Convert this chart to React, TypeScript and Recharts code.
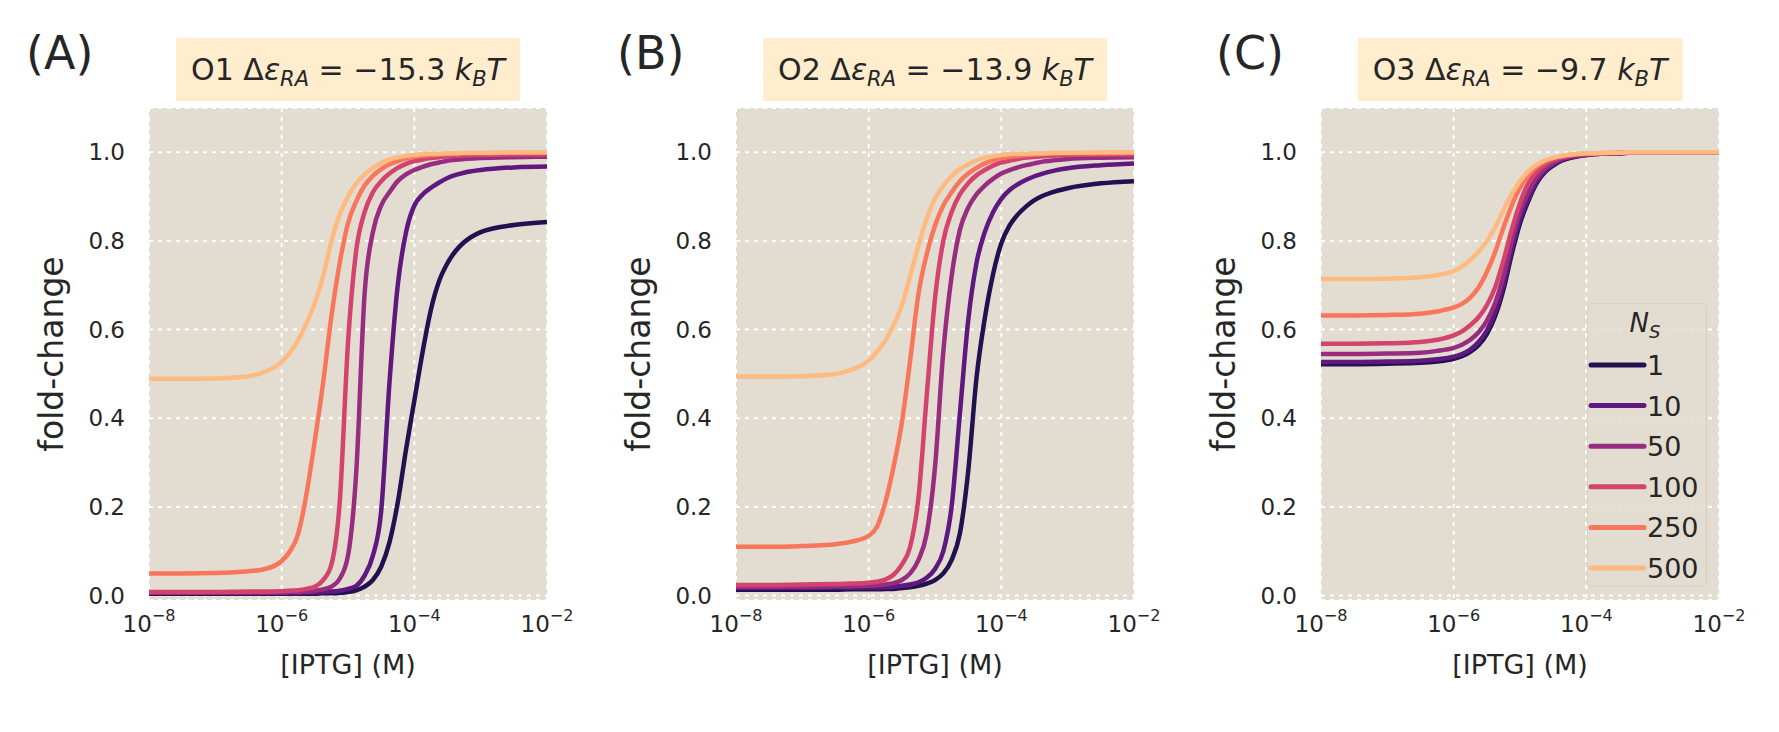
import React from 'react';
import { LineChart, Line, XAxis, YAxis, CartesianGrid, Label } from 'recharts';

const FONT = '"DejaVu Sans", "Open Sans", sans-serif';
const INK = '#262626';

// log10 [IPTG] (M) sample points
const logIptg = [
  -8, -7.5, -7, -6.5, -6.25, -6, -5.875, -5.75, -5.625, -5.5, -5.375, -5.25, -5.125, -5,
  -4.875, -4.75, -4.625, -4.5, -4.375, -4.25, -4.125, -4, -3.875, -3.75, -3.625, -3.5,
  -3.375, -3.25, -3, -2.5, -2,
];

const repressorCopies = ['1', '10', '50', '100', '250', '500'];
const seriesColors = ['#221150', '#5f187f', '#982d80', '#d3436e', '#f8765c', '#febb81'];
const panelLetters = ['(A)', '(B)', '(C)'];
const operatorNames = ['O1', 'O2', 'O3'];
const bindingEnergies = ['−15.3', '−13.9', '−9.7'];
const xTicks = [-8, -6, -4, -2];
const yTicks = [0, 0.2, 0.4, 0.6, 0.8, 1.0];

// O1, fold-change for each N_s
const o1Ns1 = [0.004, 0.004, 0.004, 0.004, 0.004, 0.004, 0.004, 0.004, 0.004, 0.004, 0.005, 0.005, 0.006, 0.008, 0.012, 0.02, 0.035, 0.065, 0.12, 0.21, 0.33, 0.44, 0.55, 0.645, 0.71, 0.75, 0.778, 0.797, 0.82, 0.836, 0.843];
const o1Ns10 = [0.006, 0.006, 0.006, 0.006, 0.006, 0.006, 0.006, 0.006, 0.007, 0.007, 0.008, 0.009, 0.011, 0.015, 0.022, 0.045, 0.09, 0.19, 0.48, 0.7, 0.82, 0.88, 0.905, 0.92, 0.932, 0.942, 0.949, 0.954, 0.96, 0.966, 0.968];
const o1Ns50 = [0.007, 0.007, 0.007, 0.007, 0.007, 0.007, 0.008, 0.008, 0.009, 0.011, 0.014, 0.02, 0.038, 0.09, 0.28, 0.68, 0.82, 0.88, 0.91, 0.935, 0.95, 0.96, 0.967, 0.973, 0.977, 0.981, 0.983, 0.985, 0.987, 0.989, 0.99];
const o1Ns100 = [0.008, 0.008, 0.008, 0.009, 0.009, 0.01, 0.011, 0.012, 0.015, 0.02, 0.035, 0.07, 0.21, 0.57, 0.78, 0.865, 0.91, 0.935, 0.952, 0.965, 0.974, 0.98, 0.984, 0.987, 0.989, 0.991, 0.992, 0.993, 0.994, 0.995, 0.995];
const o1Ns250 = [0.05, 0.05, 0.051, 0.055, 0.06, 0.078, 0.1, 0.14, 0.23, 0.35, 0.48, 0.63, 0.75, 0.84, 0.89, 0.925, 0.947, 0.962, 0.973, 0.98, 0.986, 0.99, 0.992, 0.994, 0.995, 0.996, 0.997, 0.998, 0.998, 0.999, 0.999];
const o1Ns500 = [0.489, 0.489, 0.49, 0.495, 0.505, 0.527, 0.548, 0.577, 0.615, 0.66, 0.72, 0.8, 0.86, 0.9, 0.93, 0.95, 0.965, 0.976, 0.984, 0.989, 0.992, 0.994, 0.996, 0.997, 0.997, 0.998, 0.998, 0.999, 0.999, 1.0, 1.0];

// O2
const o2Ns1 = [0.013, 0.013, 0.013, 0.013, 0.014, 0.014, 0.014, 0.015, 0.015, 0.017, 0.019, 0.022, 0.027, 0.035, 0.05, 0.08, 0.14, 0.28, 0.49, 0.625, 0.725, 0.795, 0.835, 0.86, 0.878, 0.892, 0.902, 0.909, 0.919, 0.93, 0.935];
const o2Ns10 = [0.017, 0.017, 0.017, 0.018, 0.018, 0.018, 0.018, 0.019, 0.02, 0.022, 0.025, 0.03, 0.04, 0.06, 0.1, 0.2, 0.41, 0.62, 0.75, 0.82, 0.865, 0.895, 0.915, 0.928, 0.938, 0.946, 0.952, 0.957, 0.964, 0.971, 0.975];
const o2Ns50 = [0.02, 0.02, 0.02, 0.021, 0.021, 0.022, 0.023, 0.025, 0.028, 0.035, 0.05, 0.08, 0.14, 0.29, 0.55, 0.72, 0.825, 0.875, 0.905, 0.925, 0.94, 0.952, 0.96, 0.966, 0.971, 0.975, 0.979, 0.981, 0.985, 0.988, 0.989];
const o2Ns100 = [0.024, 0.024, 0.025, 0.026, 0.027, 0.029, 0.031, 0.036, 0.047, 0.07, 0.11, 0.22, 0.45, 0.67, 0.8, 0.865, 0.905, 0.93, 0.948, 0.96, 0.97, 0.977, 0.981, 0.985, 0.988, 0.99, 0.991, 0.992, 0.994, 0.995, 0.995];
const o2Ns250 = [0.11, 0.11, 0.112, 0.116, 0.122, 0.135, 0.155, 0.21, 0.29, 0.39, 0.53, 0.68, 0.77, 0.835, 0.88, 0.91, 0.935, 0.952, 0.965, 0.975, 0.982, 0.987, 0.99, 0.992, 0.994, 0.995, 0.996, 0.997, 0.998, 0.998, 0.999];
const o2Ns500 = [0.494, 0.494, 0.495, 0.5, 0.51, 0.53, 0.55, 0.575, 0.61, 0.655, 0.72, 0.79, 0.85, 0.895, 0.925, 0.946, 0.962, 0.973, 0.982, 0.988, 0.991, 0.994, 0.996, 0.997, 0.997, 0.998, 0.998, 0.999, 0.999, 1.0, 1.0];

// O3
const o3Ns1 = [0.522, 0.522, 0.523, 0.525, 0.528, 0.534, 0.54, 0.55, 0.565, 0.59, 0.63, 0.69, 0.77, 0.84, 0.89, 0.93, 0.955, 0.97, 0.981, 0.987, 0.991, 0.994, 0.996, 0.997, 0.998, 0.998, 0.999, 0.999, 0.999, 1.0, 1.0];
const o3Ns10 = [0.527, 0.527, 0.528, 0.53, 0.533, 0.539, 0.545, 0.555, 0.572, 0.598, 0.64, 0.7, 0.78, 0.848, 0.895, 0.933, 0.957, 0.972, 0.982, 0.988, 0.992, 0.994, 0.996, 0.997, 0.998, 0.998, 0.999, 0.999, 0.999, 1.0, 1.0];
const o3Ns50 = [0.545, 0.545, 0.546, 0.548, 0.552, 0.559, 0.566, 0.577, 0.594, 0.62, 0.66, 0.72, 0.8, 0.865, 0.91, 0.942, 0.963, 0.976, 0.985, 0.99, 0.993, 0.995, 0.996, 0.997, 0.998, 0.998, 0.999, 0.999, 0.999, 1.0, 1.0];
const o3Ns100 = [0.568, 0.568, 0.569, 0.572, 0.577, 0.587, 0.596, 0.61, 0.628, 0.655, 0.695, 0.755, 0.825, 0.885, 0.93, 0.955, 0.972, 0.982, 0.988, 0.992, 0.995, 0.996, 0.997, 0.998, 0.998, 0.999, 0.999, 1.0, 1.0, 1.0, 1.0];
const o3Ns250 = [0.632, 0.632, 0.633, 0.636, 0.641, 0.65, 0.658, 0.672, 0.695, 0.73, 0.775, 0.83, 0.88, 0.92, 0.948, 0.967, 0.979, 0.987, 0.991, 0.994, 0.996, 0.997, 0.998, 0.998, 0.999, 0.999, 1.0, 1.0, 1.0, 1.0, 1.0];
const o3Ns500 = [0.714, 0.714, 0.715, 0.718, 0.723, 0.732, 0.742, 0.757, 0.776, 0.8, 0.83, 0.87, 0.905, 0.935, 0.957, 0.972, 0.982, 0.988, 0.992, 0.995, 0.997, 0.998, 0.998, 0.999, 0.999, 0.999, 1.0, 1.0, 1.0, 1.0, 1.0];

const panelSeries = [
  [o1Ns1, o1Ns10, o1Ns50, o1Ns100, o1Ns250, o1Ns500],
  [o2Ns1, o2Ns10, o2Ns50, o2Ns100, o2Ns250, o2Ns500],
  [o3Ns1, o3Ns10, o3Ns50, o3Ns100, o3Ns250, o3Ns500],
];

// layout (page pixels)
const PLOT_LEFTS = [149, 736, 1321];
const LETTER_LEFTS = [26, 617, 1216];
const PLOT_W = 398;
const PLOT_TOP = 108;
const PLOT_BOTTOM = 600;
const CHART_H = 732;
const Y_AXIS_W = 100;
const X_AXIS_H = 80;
const MARGIN_LEFT = 49;
const CHART_W = MARGIN_LEFT + Y_AXIS_W + PLOT_W + 33;

function PowerTick(props: any) {
  const { x, y, payload } = props;
  return (
    <text x={x} y={y + 32} textAnchor="middle" fontFamily={FONT} fontSize={23} fill={INK}>
      10
      <tspan dy={-11} fontSize={16}>
        −{Math.abs(payload.value)}
      </tspan>
    </text>
  );
}

const subStyle = { fontSize: '0.7em', verticalAlign: '-0.3em' };

function Panel({ idx }: { idx: number }) {
  const series = panelSeries[idx];
  const rows = logIptg.map((x, i) => {
    const row: Record<string, number> = { x };
    series.forEach((s, j) => {
      row['n' + repressorCopies[j]] = s[i];
    });
    return row;
  });
  const plotLeft = PLOT_LEFTS[idx];
  const chartLeft = plotLeft - MARGIN_LEFT - Y_AXIS_W;
  const midY = (PLOT_TOP + PLOT_BOTTOM) / 2;
  const labelX = MARGIN_LEFT + Y_AXIS_W - 98;

  return (
    <>
      <div style={{ position: 'absolute', left: chartLeft, top: 0 }}>
        <LineChart
          width={CHART_W}
          height={CHART_H}
          data={rows}
          margin={{ top: PLOT_TOP, right: 33, bottom: CHART_H - PLOT_BOTTOM - X_AXIS_H, left: MARGIN_LEFT }}
        >
          <CartesianGrid fill="#E3DCD0" fillOpacity={1} stroke="#ffffff" strokeWidth={2} strokeDasharray="4 5" />
          <XAxis
            type="number"
            dataKey="x"
            domain={[-8, -2]}
            ticks={xTicks}
            interval={0}
            height={X_AXIS_H}
            axisLine={false}
            tickLine={false}
            tickSize={0}
            tickMargin={0}
            tick={<PowerTick />}
            allowDataOverflow
          >
            <Label
              value="[IPTG] (M)"
              content={() => (
                <text
                  x={MARGIN_LEFT + Y_AXIS_W + PLOT_W / 2}
                  y={674}
                  textAnchor="middle"
                  fontFamily={FONT}
                  fontSize={27}
                  fill={INK}
                >
                  [IPTG] (M)
                </text>
              )}
            />
          </XAxis>
          <YAxis
            type="number"
            domain={[-0.01, 1.1]}
            ticks={yTicks}
            interval={0}
            width={Y_AXIS_W}
            axisLine={false}
            tickLine={false}
            tickSize={0}
            tickMargin={24}
            tick={{ fontFamily: FONT, fontSize: 23, fill: INK }}
            tickFormatter={(v: number) => v.toFixed(1)}
            allowDataOverflow
          >
            <Label
              value="fold-change"
              content={() => (
                <text
                  x={labelX}
                  y={midY}
                  transform={`rotate(-90 ${labelX} ${midY})`}
                  textAnchor="middle"
                  dominantBaseline="central"
                  fontFamily={FONT}
                  fontSize={33}
                  fill={INK}
                >
                  fold-change
                </text>
              )}
            />
          </YAxis>
          {repressorCopies.map((n, j) => (
            <Line
              key={n}
              type="monotone"
              dataKey={'n' + n}
              stroke={seriesColors[j]}
              strokeWidth={4.5}
              dot={false}
              activeDot={false}
              isAnimationActive={false}
            />
          ))}
        </LineChart>
      </div>
      <div
        style={{
          position: 'absolute',
          left: LETTER_LEFTS[idx],
          top: 30,
          fontFamily: FONT,
          fontSize: 46,
          lineHeight: '46px',
          color: INK,
        }}
      >
        {panelLetters[idx]}
      </div>
      <div
        style={{
          position: 'absolute',
          left: plotLeft + PLOT_W / 2,
          top: 38,
          height: 63,
          transform: 'translateX(-50%)',
          background: '#FFEDCE',
          padding: '0 15px',
          fontFamily: FONT,
          fontSize: 30,
          lineHeight: '63px',
          whiteSpace: 'nowrap',
          color: INK,
        }}
      >
        {operatorNames[idx]} Δ<i>ε</i>
        <i style={subStyle}>RA</i>
        {' = '}
        {bindingEnergies[idx]} <i>k</i>
        <i style={subStyle}>B</i>
        <i>T</i>
      </div>
    </>
  );
}

function NsLegend() {
  const rowY = (i: number) => 62 + i * 40.6;
  return (
    <div
      style={{
        position: 'absolute',
        left: 1587,
        top: 303,
        width: 120,
        height: 284,
        boxSizing: 'border-box',
        border: '1.5px solid #d6d0c5',
        borderRadius: 5,
        background: 'rgba(227,220,208,0.85)',
      }}
    >
      <svg width={120} height={284} style={{ position: 'absolute', left: -1.5, top: -1.5 }}>
        <text x={58} y={29} textAnchor="middle" fontFamily={FONT} fontSize={26} fontStyle="italic" fill={INK}>
          N
          <tspan dy={6} fontSize={18}>
            S
          </tspan>
        </text>
        {repressorCopies.map((n, i) => (
          <g key={n}>
            <line
              x1={4}
              x2={57}
              y1={rowY(i)}
              y2={rowY(i)}
              stroke={seriesColors[i]}
              strokeWidth={5}
              strokeLinecap="round"
            />
            <text x={60} y={rowY(i) + 10} fontFamily={FONT} fontSize={27} fill={INK}>
              {n}
            </text>
          </g>
        ))}
      </svg>
    </div>
  );
}

export default function App() {
  return (
    <div style={{ position: 'absolute', left: 0, top: 0, width: 1779, height: 732, background: '#ffffff' }}>
      {[0, 1, 2].map((i) => (
        <Panel key={i} idx={i} />
      ))}
      <NsLegend />
    </div>
  );
}
